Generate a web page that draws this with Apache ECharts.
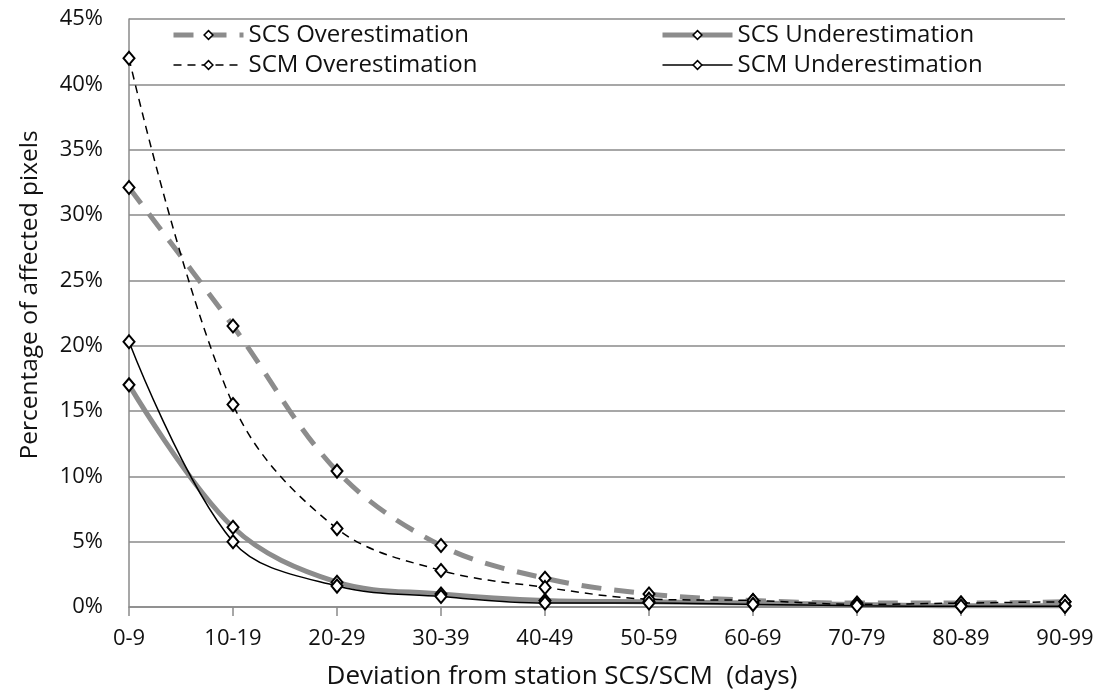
<!DOCTYPE html>
<html>
<head>
<meta charset="utf-8">
<script src="https://cdn.jsdelivr.net/npm/echarts@6/dist/echarts.min.js"></script>
<style>
  html, body { margin: 0; padding: 0; background: #fff; }
  #chart { width: 1101px; height: 696px; }
</style>
</head>
<body>
<div id="chart"></div>
<script>
// Deviation classes (days)
const categories = ['0-9', '10-19', '20-29', '30-39', '40-49', '50-59', '60-69', '70-79', '80-89', '90-99'];

// Percentage of affected pixels per class
const scsOver  = [32.1, 21.5, 10.4, 4.7, 2.2, 1.0, 0.5, 0.3, 0.3, 0.4];
const scmOver  = [42.0, 15.5, 6.0, 2.8, 1.5, 0.6, 0.5, 0.2, 0.3, 0.4];
const scsUnder = [17.0, 6.1, 1.9, 1.0, 0.5, 0.4, 0.3, 0.2, 0.1, 0.1];
const scmUnder = [20.3, 5.0, 1.6, 0.8, 0.3, 0.3, 0.2, 0.1, 0.05, 0.05];

const yTicks = [0, 5, 10, 15, 20, 25, 30, 35, 40, 45];

const FONT = '"Open Sans", "DejaVu Sans", sans-serif';
const TXT = '#111';
const GRID = '#8a8a8a';
const GREY_LINE = '#8c8c8c';

// Line styles per series
const styleScsOver  = { color: GREY_LINE, width: 5, type: [20, 13] };
const styleScsUnder = { color: GREY_LINE, width: 5, type: 'solid' };
const styleScmOver  = { color: '#000', width: 1.5, type: [8, 6] };
const styleScmUnder = { color: '#000', width: 1.5, type: 'solid' };

const markerStyle = { color: '#fff', borderColor: '#000', borderWidth: 2 };

function series(name, data, lineStyle, z) {
  return {
    name, type: 'line', data, smooth: 0.35, z,
    symbol: 'diamond', symbolSize: [11, 13], showAllSymbol: true,
    itemStyle: Object.assign({}, markerStyle),
    lineStyle, emphasis: { disabled: true }
  };
}

function legendItem(name, lineStyle) {
  return {
    name,
    lineStyle: Object.assign({}, lineStyle),
    itemStyle: { color: '#fff', borderColor: '#000', borderWidth: 1.5 }
  };
}

const legendCommon = {
  orient: 'vertical', top: 18, itemGap: 6,
  itemWidth: 70, itemHeight: 11,
  textStyle: { fontSize: 24, color: TXT, fontFamily: FONT }
};

const chart = echarts.init(document.getElementById('chart'), null, { renderer: 'canvas' });

chart.setOption({
  animation: false,
  backgroundColor: '#fff',
  textStyle: { fontFamily: FONT },
  grid: { left: 129, right: 36, top: 19, bottom: 89, containLabel: false },
  legend: [
    Object.assign({}, legendCommon, {
      left: 166,
      data: [legendItem('SCS Overestimation', styleScsOver), legendItem('SCM Overestimation', styleScmOver)]
    }),
    Object.assign({}, legendCommon, {
      left: 655,
      data: [legendItem('SCS Underestimation', styleScsUnder), legendItem('SCM Underestimation', styleScmUnder)]
    })
  ],
  xAxis: {
    type: 'category',
    data: categories,
    boundaryGap: false,
    name: 'Deviation from station SCS/SCM  (days)',
    nameLocation: 'middle',
    nameGap: 57,
    nameTextStyle: { fontSize: 26, color: TXT, fontFamily: FONT, padding: [0, 70, 0, 0] },
    axisLine: { lineStyle: { color: GRID, width: 1.5 } },
    axisTick: { show: true, alignWithLabel: true, length: 9, lineStyle: { color: GRID, width: 1.5 } },
    axisLabel: { fontSize: 22, color: TXT, margin: 21, fontFamily: FONT },
    splitLine: { show: false }
  },
  yAxis: {
    type: 'value',
    min: yTicks[0],
    max: yTicks[yTicks.length - 1],
    interval: 5,
    name: 'Percentage of affected pixels',
    nameLocation: 'middle',
    nameGap: 86,
    nameRotate: 90,
    nameTextStyle: { fontSize: 24.5, color: TXT, fontFamily: FONT, padding: [0, 0, 0, 36] },
    axisLine: { show: true, lineStyle: { color: GRID, width: 1.5 } },
    axisTick: { show: false },
    axisLabel: { fontSize: 22, color: TXT, margin: 26, fontFamily: FONT, formatter: v => v + '%' },
    splitLine: { show: true, lineStyle: { color: GRID, width: 1.5 } }
  },
  series: [
    series('SCS Overestimation', scsOver, styleScsOver, 2),
    series('SCS Underestimation', scsUnder, styleScsUnder, 2),
    series('SCM Overestimation', scmOver, styleScmOver, 3),
    series('SCM Underestimation', scmUnder, styleScmUnder, 3)
  ]
});
</script>
</body>
</html>
